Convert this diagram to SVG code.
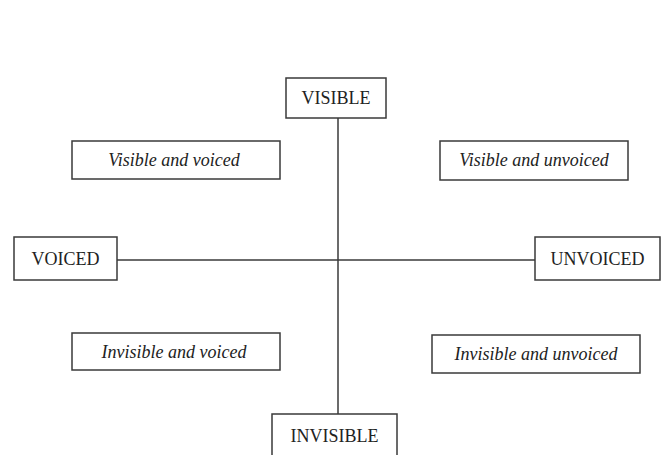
<svg xmlns="http://www.w3.org/2000/svg" width="662" height="455" viewBox="0 0 662 455">
<style>
.box{fill:#fff;stroke:#3a3a3a;stroke-width:1.5}
.lbl{font-family:"Liberation Serif","Times New Roman",serif;font-size:18px;fill:#222;text-anchor:middle}
.it{font-style:italic}
.ln{stroke:#3a3a3a;stroke-width:1.5;fill:none}
</style>
<rect width="662" height="455" fill="#fff"/>
<g id="connectors">
<line class="ln" x1="338" y1="118" x2="338" y2="414"/>
<line class="ln" x1="117" y1="260" x2="535" y2="260"/>
</g>
<g id="visible"><rect class="box" x="286" y="78" width="100" height="40"/><text class="lbl" x="336" y="104">VISIBLE</text></g>
<g id="invisible"><rect class="box" x="272" y="414" width="125" height="45"/><text class="lbl" x="334.5" y="442">INVISIBLE</text></g>
<g id="voiced"><rect class="box" x="14" y="237" width="103" height="43"/><text class="lbl" x="65.5" y="265">VOICED</text></g>
<g id="unvoiced"><rect class="box" x="535" y="237" width="125" height="43"/><text class="lbl" x="597.5" y="265">UNVOICED</text></g>
<g id="visible-voiced"><rect class="box" x="72" y="141" width="208" height="38"/><text class="lbl it" x="174" y="166">Visible and voiced</text></g>
<g id="visible-unvoiced"><rect class="box" x="440" y="141" width="188" height="39"/><text class="lbl it" x="534" y="166">Visible and unvoiced</text></g>
<g id="invisible-voiced"><rect class="box" x="72" y="333" width="208" height="37"/><text class="lbl it" x="174" y="358">Invisible and voiced</text></g>
<g id="invisible-unvoiced"><rect class="box" x="432" y="335" width="208" height="38"/><text class="lbl it" x="536" y="360">Invisible and unvoiced</text></g>
</svg>
